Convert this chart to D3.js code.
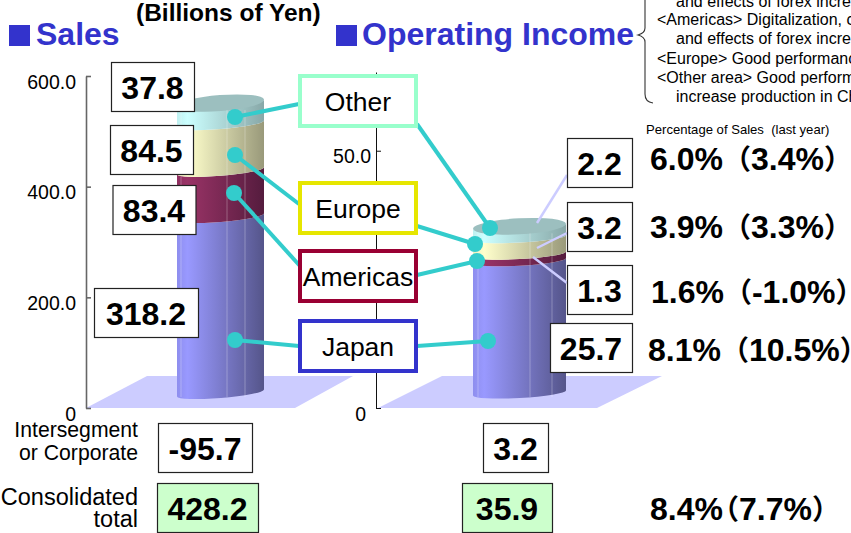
<!DOCTYPE html>
<html><head><meta charset="utf-8">
<script src="https://cdn.jsdelivr.net/npm/d3@7"></script>
<style>
html,body{margin:0;padding:0;background:#fff;overflow:hidden}
svg{display:block}
text{font-family:"Liberation Sans","Noto Sans CJK JP",sans-serif;fill:#000}
</style></head><body>
<svg id="c" width="851" height="533"></svg>
<script>
const regions = ["Japan","Americas","Europe","Other"];
const salesValues = [318.2,83.4,84.5,37.8];
const incomeValues = [25.7,1.3,3.2,2.2];
const salesTicks = [0,200,400,600];
const incomeTicks = [0,50];
const rowLabels = [["Intersegment","or Corporate"],["Consolidated","total"]];
const salesOther = [-95.7,428.2];
const incomeOther = [3.2,35.9];
const percents = ["6.0%","3.9%","1.6%","8.1%","8.4%"];
const lastYear = ["3.4%","3.3%","-1.0%","10.5%","7.7%"];
const noteLines = ["and effects of forex incre","<Americas> Digitalization, c","and effects of forex incre","<Europe> Good performanc","<Other area> Good perform","increase production in Ch"];

const svg = d3.select("#c");
const defs = svg.append("defs");
const BLUE="#3333cc", CYAN="#33cccc", LAV="#ccccff";
const shades = {
  Japan:["#8e8eee","#9999ff","#55558a"],
  Americas:["#8f2f60","#993366","#551c3e"],
  Europe:["#f0f0c0","#ffffcc","#99997a"],
  Other:["#bff0f0","#ccffff","#88a8a8"]
};
regions.forEach(r=>{
  const g=defs.append("linearGradient").attr("id","g"+r);
  [[0,0],[.12,1],[1,2]].forEach(([o,i])=>g.append("stop").attr("offset",o).attr("stop-color",shades[r][i]));
});

const baseY=408;
const yS=d3.scaleLinear().domain([0,600]).range([baseY,76]);
const yI=d3.scaleLinear().domain([0,65.3]).range([baseY,72]);

function floor(x0,x1,x2,x3){
  svg.append("path").attr("fill",LAV)
    .attr("d",d3.line()([[x0,baseY],[x1,376],[x2,376],[x3,baseY]])+"Z");
}
floor(86,147,353,295);
floor(378,442,662,597);

function axis(x,scale,ticks,fmt,color,w){
  const a=d3.axisLeft(scale).tickValues(ticks).tickFormat(fmt).tickSize(-5).tickSizeOuter(0).tickPadding(10);
  const g=svg.append("g").attr("transform",`translate(${x},0)`).call(a);
  g.selectAll("path,line").attr("stroke",color).attr("stroke-width",w);
  g.selectAll("text").attr("font-size",19.5).attr("dy","0.62em").attr("fill","#000")
    .attr("dx",(d)=>d===50?5:0)
    .style("font-family",'"Liberation Sans",sans-serif');
}
const tf=d=>d===0?"0":d.toFixed(1);
axis(86,yS,salesTicks,tf,"#666",1.6);
axis(376,yI,incomeTicks,tf,"#111",1);

function cylinder(scale,values,x0,x1,tilt,highlights){
  const rx=(x1-x0)/2, ry=5, lift=15, rot=Math.atan(-2*tilt/(x1-x0))*180/Math.PI;
  const stack=d3.cumsum(values);
  const g=svg.append("g");
  const bands=regions.map((r,i)=>({r,lo:i?stack[i-1]:0,hi:stack[i]}));
  g.selectAll("path.band").data(bands).join("path").attr("class","band")
    .attr("fill",d=>`url(#g${d.r})`)
    .attr("d",d=>{
      const b=scale(d.lo)-lift,t=scale(d.hi)-lift;
      return `M${x0},${b+tilt}L${x0},${t+tilt}A${rx},${ry} ${rot} 0 0 ${x1},${t-tilt}L${x1},${b-tilt}A${rx},${ry} ${rot} 0 1 ${x0},${b+tilt}Z`;
    });
  const top=scale(stack[stack.length-1])-lift;
  g.append("path").attr("fill","#9cbfbf")
    .attr("d",`M${x0},${top+tilt}A${rx},8 ${rot} 1 1 ${x1},${top-tilt}A${rx},8 ${rot} 1 1 ${x0},${top+tilt}Z`);
  g.selectAll("line.hl").data(highlights).join("line").attr("class","hl")
    .attr("x1",d=>d).attr("x2",d=>d).attr("y1",scale(0)-lift+4).attr("y2",top+7)
    .attr("stroke","#fff").attr("stroke-opacity",.28).attr("stroke-width",1);
}
cylinder(yS,salesValues,177,264,3.5,[181,227,245]);
cylinder(yI,incomeValues,473,566,2.5,[478,530,552]);

// thin leaders behind boxes
const thin=[[567,175,537,223],[567,233,537,248],[567,283,533,257]];
svg.selectAll("line.thin").data(thin).join("line").attr("class","thin")
  .attr("x1",d=>d[0]).attr("y1",d=>d[1]).attr("x2",d=>d[2]).attr("y2",d=>d[3])
  .attr("stroke",LAV).attr("stroke-width",2.5);

// region connectors
const leaders=[
 [299,104,235,117],[299,204,235,155],[300,266,234,193],[299,346,235,340],
 [417,124,490,228],[417,226,475,244],[417,275,477,261],[417,346,488,341]
];
svg.selectAll("line.lead").data(leaders).join("line").attr("class","lead")
  .attr("x1",d=>d[0]).attr("y1",d=>d[1]).attr("x2",d=>d[2]).attr("y2",d=>d[3])
  .attr("stroke",CYAN).attr("stroke-width",4);
svg.selectAll("circle.dot").data(leaders).join("circle").attr("class","dot")
  .attr("cx",d=>d[2]).attr("cy",d=>d[3]).attr("r",8).attr("fill",CYAN);

// region legend boxes
const regionBox={Other:[75,"#99ffcc"],Europe:[182,"#e6e600"],Americas:[250,"#990033"],Japan:[320,BLUE]};
const lg=svg.selectAll("g.rb").data(regions).join("g").attr("class","rb");
lg.append("rect").attr("x",300).attr("width",116).attr("y",d=>regionBox[d][0]+1).attr("height",50)
  .attr("fill","#fff").attr("stroke",d=>regionBox[d][1]).attr("stroke-width",4);
lg.append("text").attr("x",358).attr("y",d=>regionBox[d][0]+36).attr("text-anchor","middle")
  .attr("font-size",26.5).text(d=>d);

// value boxes
const fmt=d=>d.toFixed(1);
const boxes=[
 {v:salesValues[3],x:111,y:62,w:83},{v:salesValues[2],x:110,y:125,w:83},{v:salesValues[1],x:112.5,y:185,w:83},
 {v:salesValues[0],x:94,y:288,w:104},
 {v:salesOther[0],x:158,y:423,w:94},{v:salesOther[1],x:157,y:483,w:101,fill:"#ccffcc"},
 {v:incomeValues[3],x:567,y:138,w:65},{v:incomeValues[2],x:567,y:202,w:65},{v:incomeValues[1],x:567,y:265,w:65},
 {v:incomeValues[0],x:550,y:323,w:82},
 {v:incomeOther[0],x:483,y:423,w:65},{v:incomeOther[1],x:462,y:483,w:90,fill:"#ccffcc"}
];
const bg=svg.selectAll("g.vb").data(boxes).join("g").attr("class","vb");
bg.append("rect").attr("x",d=>d.x+.5).attr("y",d=>d.y+.5).attr("width",d=>d.w).attr("height",49)
  .attr("fill",d=>d.fill||"#fff").attr("stroke","#222").attr("stroke-width",1.2);
bg.append("text").attr("x",d=>d.x+d.w/2).attr("y",d=>d.y+37).attr("text-anchor","middle")
  .attr("font-size",32).attr("font-weight","bold").text(d=>fmt(d.v));

// titles
const titles=[{t:"Sales",sx:9,tx:36},{t:"Operating Income",sx:336,tx:362}];
svg.selectAll("rect.sq").data(titles).join("rect").attr("class","sq")
  .attr("x",d=>d.sx).attr("y",25).attr("width",21).attr("height",21).attr("fill",BLUE);
svg.selectAll("text.ttl").data(titles).join("text").attr("class","ttl")
  .attr("x",d=>d.tx).attr("y",45).attr("font-size",32).attr("font-weight","bold")
  .style("fill",BLUE).text(d=>d.t);
svg.append("text").attr("x",136).attr("y",21).attr("font-size",24.5).attr("font-weight","bold").text("(Billions of Yen)");

// note block
svg.append("path").attr("fill","none").attr("stroke","#333").attr("stroke-width",1.1)
  .attr("d","M645,0V28Q645,33 638,35Q645,37 645,42V94Q645,102 653,103");
const noteY=[7,25,44,64,83,102], noteX=[676,657,676,657,657,676];
svg.selectAll("text.note").data(noteLines).join("text").attr("class","note")
  .attr("x",(d,i)=>noteX[i]).attr("y",(d,i)=>noteY[i]).attr("font-size",16).text(d=>d);

svg.append("text").attr("x",646).attr("y",134).attr("font-size",13.1).attr("xml:space","preserve")
  .text("Percentage of Sales  (last year)");

// percent rows
const pctX=[650,650,651,648,650], pctY=[170,238,303,361,520];
const pt=svg.selectAll("text.pct").data(percents).join("text").attr("class","pct")
  .attr("x",(d,i)=>pctX[i]).attr("y",(d,i)=>pctY[i]).attr("font-size",32).attr("font-weight","bold");
pt.append("tspan").text(d=>d);
pt.append("tspan").attr("font-size",28).attr("dx",(d,i)=>i===4?-12:0).text("（");
pt.append("tspan").text((d,i)=>lastYear[i]);
pt.append("tspan").attr("font-size",28).text("）");

// row labels
const rowY=[[437,460],[505,527]], rowSize=[21.2,23.5];
rowLabels.forEach((ls,i)=>ls.forEach((l,j)=>{
  svg.append("text").attr("x",138).attr("y",rowY[i][j]).attr("text-anchor","end").attr("font-size",rowSize[i]).text(l);
}));
</script>
</body></html>
